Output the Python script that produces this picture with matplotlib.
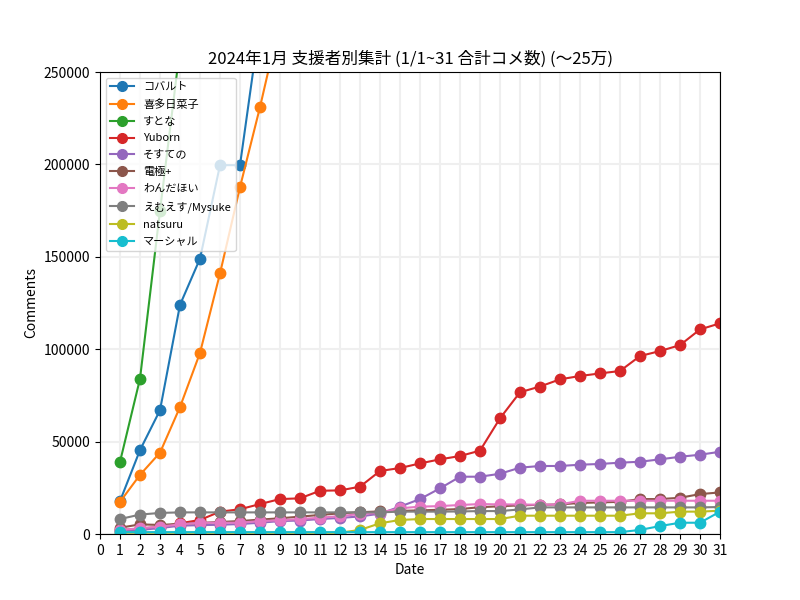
import matplotlib
matplotlib.use('Agg')
import matplotlib.pyplot as plt

plt.rcParams['font.family'] = ['Noto Sans CJK JP', 'DejaVu Sans']

days = list(range(1, 32))

# cumulative comment counts per supporter (values above 250000 are off the chart)
cobalt = [17800, 45400, 67000, 124000, 149000, 199600, 199600, 277000, 320000, 360000,
          395000, 430000, 470000, 505000, 540000, 575000, 610000, 640000, 675000, 710000,
          745000, 780000, 810000, 845000, 880000, 910000, 945000, 980000, 1010000, 1045000, 1080000]
kitatani = [17400, 32000, 44000, 68700, 98000, 141000, 187700, 231000, 278000, 310000,
            340000, 372000, 405000, 438000, 470000, 500000, 532000, 565000, 598000, 630000,
            660000, 692000, 725000, 757000, 790000, 820000, 852000, 885000, 917000, 950000, 980000]
sutona = [39000, 84000, 175000, 263000, 330000, 390000, 450000, 505000, 560000, 615000,
          670000, 720000, 775000, 830000, 880000, 935000, 990000, 1040000, 1095000, 1150000,
          1200000, 1255000, 1310000, 1360000, 1415000, 1470000, 1520000, 1575000, 1630000, 1680000, 1735000]
yuborn = [2000, 3000, 3800, 5800, 7600, 12100, 13400, 16200, 18900, 19300,
          23400, 23600, 25600, 34100, 35700, 38200, 40400, 42200, 45100, 62600,
          76700, 79800, 83700, 85500, 86900, 88200, 96300, 99000, 102200, 110700, 114000]
sosuteno = [1500, 2200, 3200, 4500, 4800, 5000, 5400, 6100, 7000, 7300,
            8100, 8700, 9500, 11000, 14800, 18900, 24700, 31000, 31000, 32600,
            35900, 36800, 36800, 37500, 37900, 38600, 39100, 40400, 41800, 42900, 44500]
denkyoku = [3400, 5200, 4900, 5500, 6000, 6500, 7000, 7800, 8500, 9400,
            10300, 11200, 11800, 12200, 12500, 12800, 13100, 13500, 14500, 15000,
            15500, 15800, 16000, 16800, 17100, 17400, 18900, 18900, 19600, 21600, 22500]
wandahoi = [2200, 3100, 4000, 5200, 6100, 6100, 6100, 7000, 7400, 8100,
            8800, 9700, 10800, 11500, 13900, 14800, 15100, 15700, 16200, 16000,
            16000, 15800, 16000, 18000, 18000, 18000, 18000, 18000, 18000, 18000, 18000]
mysuke = [8100, 10500, 11400, 11700, 11700, 11700, 11700, 11700, 11700, 11700,
          11700, 11700, 11700, 11700, 12100, 12100, 12100, 12200, 12400, 12400,
          13300, 14400, 14400, 14400, 14400, 14400, 14400, 14400, 14400, 14400, 14600]
natsuru = [700, 700, 700, 700, 700, 700, 700, 700, 700, 700,
           700, 700, 2200, 5800, 7600, 8100, 8100, 8100, 8100, 8100,
           9900, 9900, 9900, 9900, 9900, 9900, 11200, 11200, 12100, 12100, 12600]
marshal = [1000, 1000, 1000, 1000, 1000, 1000, 1000, 1000, 1000, 1000,
           1000, 1000, 1000, 1000, 1000, 1000, 1000, 1000, 1000, 1000,
           1000, 1000, 1000, 1000, 1000, 1000, 2200, 4300, 6100, 6100, 12100]

names = ['コバルト', '喜多日菜子', 'すとな', 'Yuborn', 'そすての', '電極+',
         'わんだほい', 'えむえす/Mysuke', 'natsuru', 'マーシャル']
series = [cobalt, kitatani, sutona, yuborn, sosuteno, denkyoku,
          wandahoi, mysuke, natsuru, marshal]

fig, ax = plt.subplots(figsize=(8, 6), dpi=100)

for name, vals in zip(names, series):
    ax.plot(days, vals, marker='o', markersize=7.5, label=name)

ax.set_xlim(0, 31)
ax.set_ylim(0, 250000)
ax.set_xticks(range(0, 32))
ax.grid(True, color='#efefef', linewidth=1.5)
ax.set_axisbelow(True)
ax.set_xlabel('Date')
ax.set_ylabel('Comments')
ax.set_title('2024年1月 支援者別集計 (1/1~31 合計コメ数) (〜25万)')
leg = ax.legend(loc='upper left', fontsize=8, labelspacing=0.62, handlelength=2.2)
for h in leg.legend_handles:
    h.set_markersize(7)

fig.savefig('out.png')
